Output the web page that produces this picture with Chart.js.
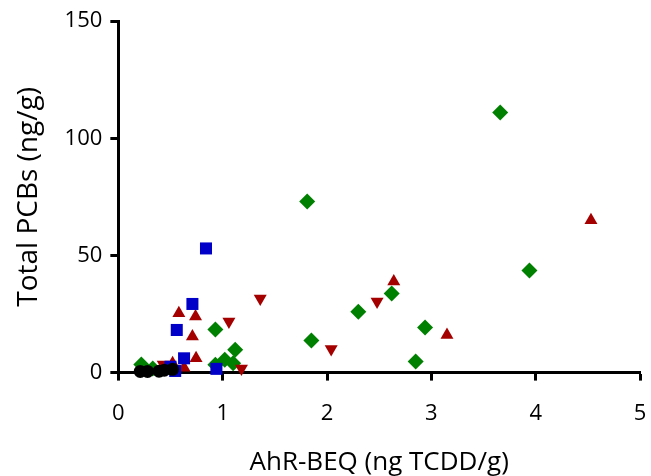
<!DOCTYPE html>
<html>
<head>
<meta charset="utf-8">
<script src="https://cdn.jsdelivr.net/npm/chart.js@4"></script>
<style>
  html, body { margin: 0; padding: 0; background: #fff; }
  #wrap { width: 651px; height: 476px; }
</style>
</head>
<body>
<div id="wrap"><canvas id="c" width="651" height="476"></canvas></div>
<script>
// Data: [AhR-BEQ (ng TCDD/g), Total PCBs (ng/g)]
const greenDiamonds = [[3.66,111],[1.81,73],[3.94,43.6],[2.62,33.8],[2.30,26],[2.94,19.2],[1.85,13.7],[2.85,4.7],[0.93,18.4],[1.12,9.8],[1.02,5.5],[1.10,4],[0.93,3.4],[0.22,3.5],[0.33,1.8]];
const blueSquares = [[0.84,53],[0.71,29.3],[0.56,18.2],[0.63,6.1],[0.94,1.6],[0.545,0.7],[0.50,2.5]];
const redUp = [[4.53,65],[2.64,38.9],[3.15,16.1],[0.58,25.3],[0.74,23.9],[0.71,15.4],[0.745,6.1],[0.52,4],[0.63,2.1]];
const redDown = [[1.36,31.6],[1.06,21.8],[1.18,1.8],[2.04,10.1],[2.48,30.3],[0.43,3.5]];
const blackCircles = [[0.21,0.5],[0.28,0.5],[0.39,0.6],[0.44,1.0],[0.52,1.4]];
const xTicks = [0,1,2,3,4,5];
const yTicks = [0,50,100,150];
const xTitle = 'AhR-BEQ (ng TCDD/g)';
const yTitle = 'Total PCBs (ng/g)';

const toXY = arr => arr.map(p => ({x: p[0], y: p[1]}));
const FONT = "'Open Sans', sans-serif";

function ds(data, style, color, radius, rotation, order) {
  return {
    data: toXY(data),
    pointStyle: style,
    pointRadius: radius,
    pointHoverRadius: radius,
    rotation: rotation,
    backgroundColor: color,
    borderColor: color,
    borderWidth: 0,
    showLine: false,
    clip: false,
    order: order
  };
}

new Chart(document.getElementById('c'), {
  type: 'scatter',
  data: {
    datasets: [
      ds(greenDiamonds, 'rectRot', '#008000', 8, 0, 5),
      ds(redUp, 'triangle', '#A50000', 7.5, 0, 4),
      ds(redDown, 'triangle', '#A50000', 7.5, 180, 3),
      ds(blueSquares, 'rect', '#0000C8', 8.5, 0, 2),
      ds(blackCircles, 'circle', '#000000', 6.5, 0, 1)
    ]
  },
  options: {
    responsive: false,
    animation: false,
    devicePixelRatio: 1,
    layout: { padding: { left: 12, right: 11, top: 14, bottom: 0 } },
    plugins: { legend: { display: false }, tooltip: { enabled: false } },
    scales: {
      x: {
        type: 'linear',
        min: 0, max: 5,
        afterBuildTicks: s => { s.ticks = xTicks.map(v => ({value: v})); },
        afterFit: s => { s.paddingRight = 0; },
        border: { color: '#000', width: 3 },
        grid: { display: true, drawOnChartArea: false, drawTicks: true, tickLength: 8, tickColor: '#000', tickWidth: 3 },
        ticks: { color: '#000', font: { family: FONT, size: 22 }, padding: 20, maxRotation: 0 },
        title: { display: true, text: xTitle, color: '#000', font: { family: FONT, size: 26, lineHeight: 1 }, padding: { top: 3, bottom: 0 } }
      },
      y: {
        type: 'linear',
        min: 0, max: 150,
        afterBuildTicks: s => { s.ticks = yTicks.map(v => ({value: v})); },
        border: { color: '#000', width: 3 },
        grid: { display: true, drawOnChartArea: false, drawTicks: true, tickLength: 8, tickColor: '#000', tickWidth: 3 },
        ticks: { color: '#000', font: { family: FONT, size: 22 }, padding: 8 },
        title: { display: true, text: yTitle, color: '#000', font: { family: FONT, size: 28 }, padding: { top: 0, bottom: 11 } }
      }
    }
  }
});
</script>
</body>
</html>
